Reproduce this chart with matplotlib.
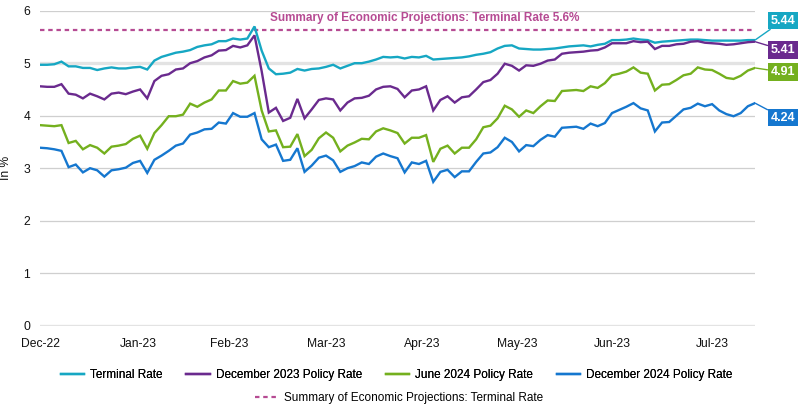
import matplotlib
matplotlib.use("Agg")
import matplotlib.pyplot as plt
import numpy as np

# ---------------- data ----------------
months = ["Dec-22", "Jan-23", "Feb-23", "Mar-23", "Apr-23", "May-23", "Jun-23", "Jul-23"]

terminal = [4.97, 4.97, 4.98, 5.03, 4.94, 4.94, 4.91, 4.91, 4.87, 4.90,
            4.92, 4.90, 4.90, 4.92, 4.93, 4.88, 5.05, 5.12, 5.16, 5.20,
            5.22, 5.25, 5.31, 5.34, 5.36, 5.42, 5.42, 5.47, 5.45, 5.47,
            5.70, 5.24, 4.90, 4.79, 4.80, 4.82, 4.89, 4.86, 4.89, 4.90,
            4.93, 4.97, 4.90, 4.95, 5.00, 5.00, 5.03, 5.07, 5.12, 5.11,
            5.12, 5.09, 5.12, 5.11, 5.14, 5.07, 5.08, 5.09, 5.10, 5.11,
            5.13, 5.16, 5.18, 5.21, 5.28, 5.33, 5.34, 5.28, 5.27, 5.26,
            5.26, 5.27, 5.28, 5.30, 5.32, 5.33, 5.34, 5.32, 5.35, 5.37,
            5.44, 5.44, 5.45, 5.47, 5.45, 5.44, 5.39, 5.41, 5.42, 5.43,
            5.44, 5.45, 5.45, 5.44, 5.43, 5.43, 5.43, 5.43, 5.43, 5.44,
            5.44]

dec2023 = [4.56, 4.55, 4.55, 4.60, 4.42, 4.40, 4.33, 4.42, 4.37, 4.31,
           4.42, 4.44, 4.41, 4.46, 4.50, 4.33, 4.66, 4.76, 4.79, 4.88,
           4.90, 5.00, 5.04, 5.11, 5.15, 5.24, 5.25, 5.33, 5.30, 5.34,
           5.53, 4.85, 4.06, 4.15, 3.90, 3.96, 4.32, 3.95, 4.12, 4.30,
           4.33, 4.31, 4.10, 4.25, 4.33, 4.34, 4.38, 4.50, 4.55, 4.56,
           4.51, 4.35, 4.48, 4.50, 4.56, 4.10, 4.30, 4.37, 4.25, 4.35,
           4.37, 4.50, 4.64, 4.68, 4.80, 4.99, 4.95, 4.86, 4.96, 4.95,
           4.99, 5.05, 5.07, 5.18, 5.20, 5.21, 5.22, 5.24, 5.25, 5.30,
           5.38, 5.38, 5.38, 5.42, 5.40, 5.41, 5.27, 5.33, 5.33, 5.36,
           5.37, 5.41, 5.42, 5.39, 5.38, 5.37, 5.35, 5.36, 5.38, 5.40,
           5.41]

jun2024 = [3.82, 3.81, 3.80, 3.82, 3.48, 3.52, 3.36, 3.44, 3.39, 3.28,
           3.41, 3.43, 3.46, 3.56, 3.62, 3.37, 3.67, 3.82, 3.99, 3.99,
           4.02, 4.23, 4.17, 4.25, 4.31, 4.48, 4.48, 4.66, 4.61, 4.63,
           4.76, 4.10, 3.70, 3.72, 3.40, 3.41, 3.65, 3.23, 3.35, 3.57,
           3.68, 3.58, 3.32, 3.43, 3.49, 3.56, 3.55, 3.70, 3.76, 3.72,
           3.67, 3.47, 3.58, 3.58, 3.63, 3.12, 3.37, 3.43, 3.28, 3.39,
           3.39, 3.55, 3.78, 3.81, 3.95, 4.19, 4.12, 3.98, 4.10, 4.05,
           4.18, 4.29, 4.28, 4.47, 4.48, 4.49, 4.47, 4.56, 4.53, 4.62,
           4.77, 4.80, 4.84, 4.92, 4.82, 4.80, 4.48, 4.59, 4.60, 4.68,
           4.77, 4.80, 4.92, 4.88, 4.87, 4.80, 4.72, 4.70, 4.76, 4.86,
           4.91]

dec2024 = [3.39, 3.38, 3.36, 3.33, 3.02, 3.07, 2.92, 3.00, 2.96, 2.84,
           2.96, 2.98, 3.01, 3.10, 3.14, 2.91, 3.16, 3.24, 3.33, 3.43,
           3.47, 3.64, 3.68, 3.74, 3.75, 3.87, 3.85, 4.05, 3.98, 3.98,
           4.05, 3.55, 3.40, 3.45, 3.14, 3.16, 3.38, 2.93, 3.05, 3.20,
           3.24, 3.15, 2.93, 3.00, 3.04, 3.11, 3.08, 3.22, 3.28, 3.23,
           3.19, 2.92, 3.11, 3.08, 3.14, 2.74, 2.93, 2.97, 2.83, 2.94,
           2.94, 3.12, 3.28, 3.30, 3.40, 3.58, 3.50, 3.32, 3.44, 3.42,
           3.54, 3.63, 3.60, 3.77, 3.78, 3.79, 3.75, 3.85, 3.80, 3.86,
           4.05, 4.11, 4.17, 4.24, 4.14, 4.10, 3.70, 3.87, 3.88, 4.00,
           4.12, 4.15, 4.23, 4.18, 4.22, 4.10, 4.03, 3.99, 4.05, 4.18,
           4.24]

sep_terminal = 5.625
sep_label = "Summary of Economic Projections: Terminal Rate 5.6%"

series_names = ["Terminal Rate", "December 2023 Policy Rate",
                "June 2024 Policy Rate", "December 2024 Policy Rate"]
end_labels = ["5.44", "5.41", "4.91", "4.24"]

# ---------------- style ----------------
colors = ["#16a7c3", "#6a2a8e", "#74b01e", "#1577cf"]
sep_color = "#b64b93"
plt.rcParams["font.family"] = ["Liberation Sans", "DejaVu Sans"]
FS = 8.7
LFS = 8.5

fig = plt.figure(figsize=(7.98, 4.07), dpi=100)
ax = fig.add_axes([40 / 798, 1 - 325.7 / 407, 715 / 798, 315 / 407])

n = len(terminal)
x = np.arange(n)
ax.set_xlim(0, n - 1)
ax.set_ylim(0, 6)

for v in range(0, 7):
    if v in (0, 5):
        ax.axhline(v, color="#e3e3e3", lw=2.4, zorder=0)
    else:
        ax.axhline(v, color="#cfcfcf", lw=0.9, zorder=0)

all_series = [terminal, dec2023, jun2024, dec2024]
lines = []
for s, c, name in zip(all_series, colors, series_names):
    ln, = ax.plot(x, s, color=c, lw=1.7, label=name, solid_joinstyle="miter", zorder=3)
    lines.append(ln)

sep_line = ax.axhline(sep_terminal, color=sep_color, lw=1.6, ls=(0, (2.0, 1.7)),
                      zorder=2, label="Summary of Economic Projections: Terminal Rate")

ax.text(53.8, 5.87, sep_label, ha="center", va="center", color=sep_color,
        fontsize=8.5, fontweight="bold")

# end-value boxes
offsets = [(11, 14), (11, -6), (11, -3), (11, -10.5)]
for s, c, lab, off in zip(all_series, colors, end_labels, offsets):
    ax.annotate(lab, xy=(n - 1, s[-1]), xytext=off, textcoords="offset points",
                ha="left", va="center", color="white", fontsize=9, fontweight="bold",
                bbox=dict(boxstyle="square,pad=0.22", fc=c, ec="none"),
                arrowprops=dict(arrowstyle="-", color=c, lw=1.0, shrinkA=0, shrinkB=0),
                annotation_clip=False)

# axes formatting
tick_pos = [0, 13.7, 26.4, 40.0, 53.4, 66.7, 80.1, 94.0]
ax.set_xticks(tick_pos)
ax.set_xticklabels(months)
ax.set_yticks(range(0, 7))
ax.tick_params(axis="x", length=0, labelsize=FS, pad=9, colors="#111111")
ax.tick_params(axis="y", length=0, labelsize=FS, pad=7, colors="#111111")
for sp in ax.spines.values():
    sp.set_visible(False)
ax.set_ylabel("In %", fontsize=FS, color="#111111", labelpad=8)

leg1 = fig.legend(handles=lines, loc="center", bbox_to_anchor=(0.497, 1 - 375 / 407),
                  ncol=4, frameon=False, fontsize=LFS, handlelength=2.0,
                  handletextpad=0.5, columnspacing=2.0, borderaxespad=0)
fig.add_artist(leg1)
fig.legend(handles=[sep_line], loc="center", bbox_to_anchor=(0.5, 1 - 398 / 407),
           frameon=False, fontsize=LFS, handlelength=2.0, handletextpad=0.5,
           borderaxespad=0)

fig.savefig("out.png", dpi=100)
